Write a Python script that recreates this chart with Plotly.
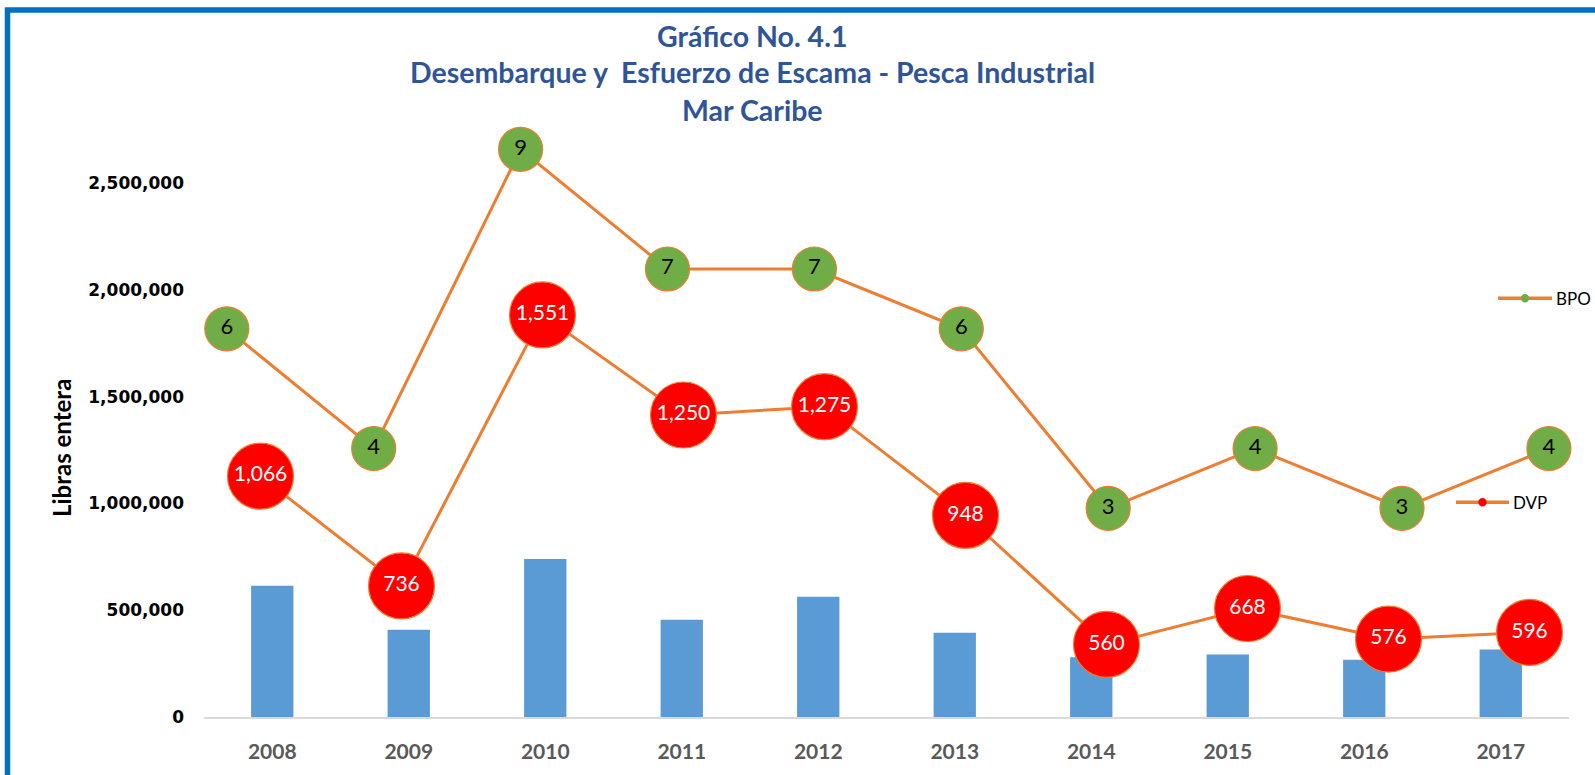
import plotly.graph_objects as go

# ---------------- data ----------------
years = ["2008", "2009", "2010", "2011", "2012", "2013", "2014", "2015", "2016", "2017"]
desembarque = [615000, 408000, 740000, 455000, 563000, 394000, 280000, 293000, 268000, 316000]
bpo = [6, 4, 9, 7, 7, 6, 3, 4, 3, 4]
dvp = [1066, 736, 1551, 1250, 1275, 948, 560, 668, 576, 596]
y_ticks = [0, 500000, 1000000, 1500000, 2000000, 2500000]
title_lines = ["Gráfico No. 4.1", "Desembarque y  Esfuerzo de Escama - Pesca Industrial", "Mar Caribe"]
y_title = "Libras entera"

# ---------------- geometry ----------------
W, H = 1595, 775
L, R, T, B = 204, 1569, 76, 717


def px(x):
    return (x - L) / (R - L)


def py(y):
    return (B - y) / (B - T)


# primary y: 0 at B, 534 px per 2.5M
y1_max = (B - T) * 2500000 / 534
# BPO axis: value n at pixel 687.8 - 59.83 n ; x index i at pixel 226.8 + 146.9 i
y2_rng = [(687.8 - B) / 59.83, (687.8 - T) / 59.83]
x2_rng = [(L - 226.8) / 146.9, (R - 226.8) / 146.9]
# DVP axis: value v at pixel 830.6 - 0.3325 v ; x index i at pixel 260.5 + 141 i
y3_rng = [(830.6 - B) / 0.3325, (830.6 - T) / 0.3325]
x3_rng = [(L - 260.5) / 141.0, (R - 260.5) / 141.0]

ORANGE = "#ED7D31"
GREEN = "#70AD47"
RED = "#FF0000"
BLUE_BAR = "#5B9BD5"
TITLE_BLUE = "#2F5597"
FONT = "Lato, 'Open Sans', sans-serif"

fig = go.Figure()

fig.add_trace(go.Bar(
    x=years, y=desembarque, marker=dict(color=BLUE_BAR, line=dict(width=0)),
    showlegend=False, xaxis="x", yaxis="y", hoverinfo="x+y",
))

fig.add_trace(go.Scatter(
    x=years, y=bpo, name="BPO", mode="lines+markers+text",
    line=dict(color=ORANGE, width=3),
    marker=dict(color=GREEN, size=44, line=dict(color=ORANGE, width=1.2)),
    text=[str(v) for v in bpo], textposition="middle center",
    textfont=dict(family=FONT, size=22, color="#000000"),
    xaxis="x2", yaxis="y2", showlegend=False, cliponaxis=False,
))

fig.add_trace(go.Scatter(
    x=years, y=dvp, name="DVP", mode="lines+markers+text",
    line=dict(color=ORANGE, width=3),
    marker=dict(color=RED, size=66, line=dict(color=ORANGE, width=1.2)),
    texttemplate="%{y:,}", textposition="middle center",
    textfont=dict(family=FONT, size=21, color="#FFFFFF"),
    xaxis="x3", yaxis="y3", showlegend=False, cliponaxis=False,
))

annotations = []
for txt, yc in zip(title_lines, [35.5, 72.5, 110]):
    annotations.append(dict(
        text=f"<b>{txt}</b>", xref="paper", yref="paper", x=px(752), y=py(yc),
        xanchor="center", yanchor="middle", showarrow=False,
        font=dict(family=FONT, size=28.5, color=TITLE_BLUE),
    ))
annotations.append(dict(
    text=f"<b>{y_title}</b>", xref="paper", yref="paper", x=px(61), y=py(448),
    xanchor="center", yanchor="middle", showarrow=False, textangle=-90,
    font=dict(family=FONT, size=24, color="#000000"),
))

shapes = [dict(
    type="rect", xref="paper", yref="paper",
    x0=px(7.5), y0=py(10), x1=px(1640), y1=py(820),
    line=dict(color="#0070C0", width=5.5), fillcolor="rgba(0,0,0,0)", layer="above",
)]

# manual legend keys (two separate legend blocks as in the reference)
for name, col, x0, x1, yc in [("BPO", GREEN, 1498, 1552, 298.3), ("DVP", RED, 1456, 1509, 502.3)]:
    shapes.append(dict(type="line", xref="paper", yref="paper",
                       x0=px(x0), x1=px(x1), y0=py(yc), y1=py(yc),
                       line=dict(color=ORANGE, width=3.5)))
    xm = (x0 + x1) / 2
    shapes.append(dict(type="circle", xref="paper", yref="paper",
                       x0=px(xm - 4.2), x1=px(xm + 4.2), y0=py(yc + 4.2), y1=py(yc - 4.2),
                       fillcolor=col, line=dict(color=col, width=0)))
    annotations.append(dict(
        text=name, xref="paper", yref="paper", x=px(x1 + 2), y=py(yc),
        xanchor="left", yanchor="middle", showarrow=False,
        font=dict(family=FONT, size=17, color="#000000"),
    ))

fig.update_layout(
    width=W, height=H,
    margin=dict(l=L, r=W - R, t=T, b=H - B, pad=0),
    paper_bgcolor="white", plot_bgcolor="white",
    bargap=0.69,
    showlegend=False,
    xaxis=dict(
        type="category", categoryorder="array", categoryarray=years,
        showgrid=False, zeroline=False, showline=True, linecolor="#D9D9D9", linewidth=2,
        ticks="", ticklabelstandoff=15,
        tickfont=dict(family=FONT, size=21, color="#595959", weight="bold"),
    ),
    yaxis=dict(
        range=[0, y1_max], tickvals=y_ticks, tickformat=",d",
        showgrid=False, zeroline=False, showline=False,
        ticks="", ticklabelstandoff=19,
        tickfont=dict(family="'DejaVu Sans', sans-serif", size=17, color="#000000", weight="bold"),
    ),
    xaxis2=dict(type="category", categoryorder="array", categoryarray=years,
                range=x2_rng, overlaying="x", visible=False),
    yaxis2=dict(range=y2_rng, overlaying="y", visible=False),
    xaxis3=dict(type="category", categoryorder="array", categoryarray=years,
                range=x3_rng, overlaying="x", visible=False),
    yaxis3=dict(range=y3_rng, overlaying="y", visible=False),
    annotations=annotations,
    shapes=shapes,
)

fig.write_html(
    "out.html",
    config={"displayModeBar": False},
    post_script="document.body.style.margin='0';document.body.style.overflow='hidden';",
)
